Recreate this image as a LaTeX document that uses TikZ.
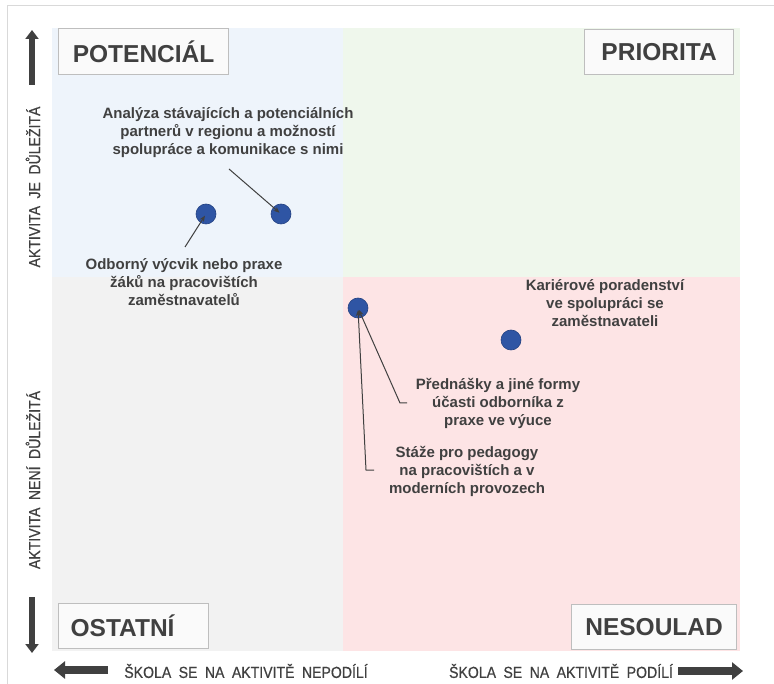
\documentclass[tikz,border=0pt]{standalone}
\usepackage{fontspec}
\setmainfont{Liberation Sans}
\newfontfamily\axisfont[FakeStretch=0.88, FakeBold=0.6, WordSpace=1.9]{Liberation Sans}
\usetikzlibrary{arrows.meta, positioning}
\definecolor{quadblue}{RGB}{238,244,251}
\definecolor{quadgreen}{RGB}{239,247,236}
\definecolor{quadgray}{RGB}{242,242,242}
\definecolor{quadpink}{RGB}{253,228,229}
\definecolor{textgray}{RGB}{64,64,64}
\definecolor{boxgray}{RGB}{190,190,190}
\definecolor{boxfill}{RGB}{250,250,250}
\definecolor{framegray}{RGB}{217,217,217}
\definecolor{dotblue}{RGB}{47,85,164}
\definecolor{dotedge}{RGB}{36,66,130}

\begin{document}
\begin{tikzpicture}[x=1pt, y=-1pt,
  qbox/.style={draw=boxgray, fill=boxfill, line width=1.2pt, text=textgray,
    font=\fontsize{24.5}{24.5}\selectfont\bfseries, inner sep=0pt,
    minimum height=45pt, anchor=north west},
  dot/.style={circle, fill=dotblue, draw=dotedge, line width=0.6pt,
    minimum size=20pt, inner sep=0pt},
  itemlabel/.style={text=textgray, font=\fontsize{15}{18}\selectfont\bfseries,
    align=center, inner sep=0pt},
  axislabel/.style={text=textgray, font=\axisfont\fontsize{16}{16}\selectfont,
    inner sep=0pt},
  leader/.style={draw=textgray, line width=1pt,
    -{Stealth[length=6pt, width=5pt]}, shorten >=2pt},
  bigarrowv/.style={draw=textgray, line width=6.5pt,
    -{Triangle[length=9pt, width=13pt]}},
  bigarrowh/.style={draw=textgray, line width=8pt,
    -{Triangle[length=11pt, width=17pt]}}]
  \useasboundingbox (0,0) rectangle (774,684);

  % frame
  \draw[framegray, line width=1pt] (7,684) -- (7,6) -- (774,6);

  % quadrants
  \fill[quadblue]  (52,28)  rectangle (343,277);
  \fill[quadgreen] (343,28) rectangle (740,277);
  \fill[quadgray]  (52,277) rectangle (343,651);
  \fill[quadpink]  (343,277) rectangle (740,651);

  % quadrant names
  \node[qbox, minimum width=170pt, minimum height=46pt] (potencial) at (58,28) {POTENCIÁL};
  \node[qbox, minimum width=149pt] (priorita) at (584,29) {PRIORITA};
  \node[qbox, text width=126pt, inner xsep=12pt, align=left] (ostatni) at (58,603) {OSTATNÍ};
  \node[qbox, minimum width=165pt] (nesoulad) at (571,604) {NESOULAD};

  % axis texts
  \node[axislabel, rotate=90] (imp-yes) at (33,187) {AKTIVITA JE DŮLEŽITÁ};
  \node[axislabel, rotate=90] (imp-no) at (33,480) {AKTIVITA NENÍ DŮLEŽITÁ};
  \node[axislabel] (part-no) at (246,671) {ŠKOLA SE NA AKTIVITĚ NEPODÍLÍ};
  \node[axislabel] (part-yes) at (561,671) {ŠKOLA SE NA AKTIVITĚ PODÍLÍ};

  % axis arrows
  \coordinate (up-tail) at (32,85);
  \coordinate (up-tip) at (32,30);
  \coordinate (down-tail) at (32,597);
  \coordinate (down-tip) at (32,653);
  \coordinate (left-tail) at (108,670);
  \coordinate (left-tip) at (54,670);
  \coordinate (right-tail) at (678,671);
  \coordinate (right-tip) at (743,671);
  \draw[bigarrowv] (up-tail) -- (up-tip);
  \draw[bigarrowv] (down-tail) -- (down-tip);
  \draw[bigarrowh] (left-tail) -- (left-tip);
  \draw[bigarrowh] (right-tail) -- (right-tip);

  % activities
  \node[dot] (vycvik) at (206,214) {};
  \node[dot] (analyza) at (281,214) {};
  \node[dot] (prednasky) at (358,308) {};
  \node[dot] (kariera) at (511,340) {};

  \node[itemlabel] (analyza-txt) at (228,133)
    {Analýza stávajících a potenciálních\\partnerů v regionu a možností\\spolupráce a komunikace s nimi};
  \node[itemlabel] (vycvik-txt) at (184,282)
    {Odborný výcvik nebo praxe\\žáků na pracovištích\\zaměstnavatelů};
  \node[itemlabel] (kariera-txt) at (605,303)
    {Kariérové poradenství\\ve spolupráci se\\zaměstnavateli};
  \node[itemlabel] (prednasky-txt) at (498,403)
    {Přednášky a jiné formy\\účasti odborníka z\\praxe ve výuce};
  \node[itemlabel] (staze-txt) at (467,471)
    {Stáže pro pedagogy\\na pracovištích a v\\moderních provozech};

  % leaders
  \coordinate (analyza-tail) at (229,169);
  \coordinate (vycvik-tail) at (185,247);
  \coordinate (prednasky-tail) at (407,403);
  \coordinate (prednasky-bend) at (400,403);
  \coordinate (staze-tail) at (374,470);
  \coordinate (staze-bend) at (366,470);
  \draw[leader] (analyza-tail) -- (analyza.center);
  \draw[leader] (vycvik-tail) -- (vycvik.center);
  \draw[leader] (prednasky-tail) -- (prednasky-bend) -- (prednasky.center);
  \draw[leader] (staze-tail) -- (staze-bend) -- (prednasky.center);
\end{tikzpicture}
\end{document}
